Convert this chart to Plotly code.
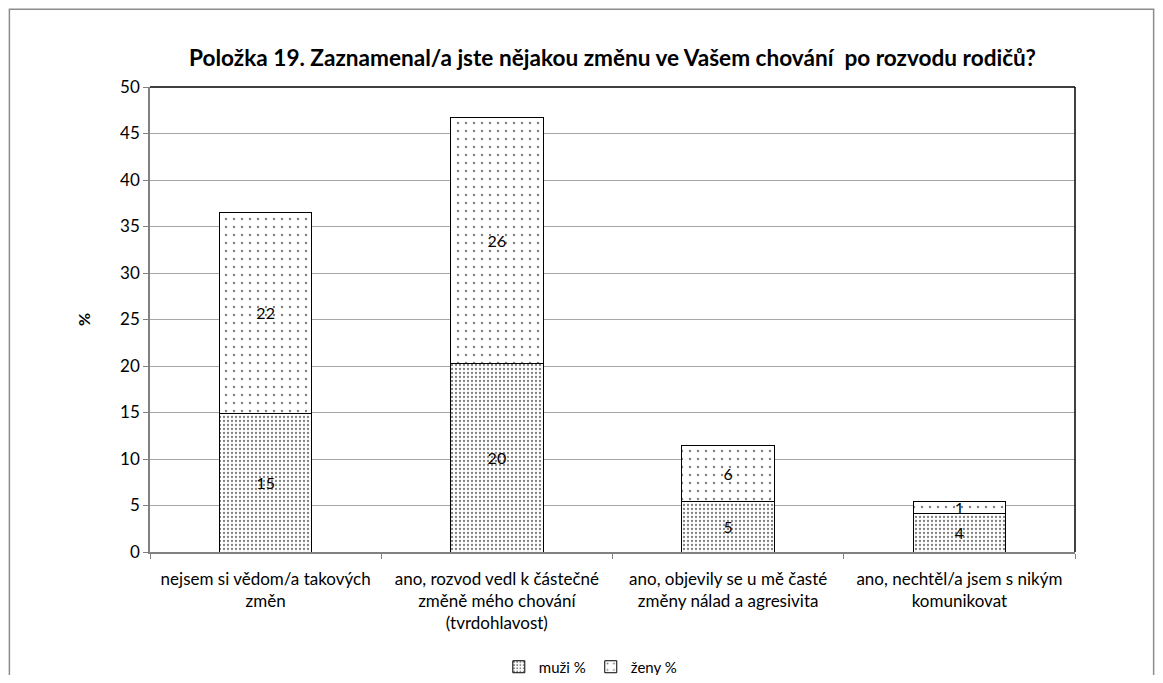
import plotly.graph_objects as go

# data
categories = [
    "nejsem si vědom/a takových<br>změn",
    "ano, rozvod vedl k částečné<br>změně mého chování<br>(tvrdohlavost)",
    "ano, objevily se u mě časté<br>změny nálad a agresivita",
    "ano, nechtěl/a jsem s nikým<br>komunikovat",
]
muzi = [14.9, 20.3, 5.4, 4.1]
zeny = [21.6, 26.4, 6.1, 1.3]
y_ticks = [0, 5, 10, 15, 20, 25, 30, 35, 40, 45, 50]

FONT = "Lato, 'Open Sans', sans-serif"

fig = go.Figure()

fig.add_trace(
    go.Bar(
        x=categories,
        y=muzi,
        name="muži %",
        texttemplate="%{y:.0f}",
        textposition="inside",
        insidetextanchor="middle",
        textangle=0,
        constraintext="none",
        textfont=dict(color="black", size=16, family=FONT),
        marker=dict(
            color="white",
            line=dict(color="black", width=1),
            pattern=dict(shape=".", fgcolor="black", bgcolor="white",
                         size=4, solidity=0.26, fillmode="overlay"),
        ),
    )
)
fig.add_trace(
    go.Bar(
        x=categories,
        y=zeny,
        name="ženy %",
        texttemplate="%{y:.0f}",
        textposition="inside",
        insidetextanchor="middle",
        textangle=0,
        constraintext="none",
        textfont=dict(color="black", size=16, family=FONT),
        marker=dict(
            color="white",
            line=dict(color="black", width=1),
            pattern=dict(shape=".", fgcolor="black", bgcolor="white",
                         size=8, solidity=0.07, fillmode="overlay"),
        ),
    )
)

# outer chart frame and the black top/right edges of the plot box
fig.add_shape(type="rect", xref="paper", yref="paper",
              x0=-0.152, x1=1.085, y0=-0.32, y1=1.167,
              line=dict(color="#8c8c8c", width=1.5), layer="below")
fig.add_shape(type="line", xref="paper", yref="paper",
              x0=0, x1=1, y0=1, y1=1, line=dict(color="black", width=1.5))
fig.add_shape(type="line", xref="paper", yref="paper",
              x0=1, x1=1, y0=0, y1=1, line=dict(color="black", width=1.5))

fig.update_xaxes(
    automargin=False,
    showline=True, linecolor="#808080", linewidth=1.5,
    ticks="outside", tickson="boundaries", ticklen=5, tickcolor="#808080",
    tickfont=dict(size=17, family=FONT, color="black"),
    ticklabelstandoff=11,
    showgrid=False,
)
fig.update_yaxes(
    automargin=False,
    range=[0, 50], tickvals=y_ticks,
    showline=True, linecolor="#808080", linewidth=1.5,
    ticks="outside", ticklen=5, tickcolor="#808080",
    tickfont=dict(size=17, family=FONT, color="black"),
    showgrid=True, gridcolor="#a6a6a6", gridwidth=1,
    title=dict(text="<b>%</b>", font=dict(size=16, family=FONT, color="black"),
               standoff=26),
)

fig.update_layout(
    width=1147,
    height=667,
    barmode="stack",
    bargap=0.6,
    plot_bgcolor="white",
    paper_bgcolor="white",
    font=dict(family=FONT, color="black"),
    title=dict(
        text="<b>Položka 19. Zaznamenal/a jste nějakou změnu ve Vašem chování  po rozvodu rodičů?</b>",
        x=0.5, xref="paper", y=0.925, yref="container", yanchor="middle",
        font=dict(size=22.6, family=FONT, color="black"),
    ),
    margin=dict(l=142, r=80, t=79, b=123),
    showlegend=True,
    legend=dict(
        orientation="h", x=0.476, xanchor="center",
        yref="container", y=0.012, yanchor="middle",
        font=dict(size=15, family=FONT, color="black"),
        traceorder="normal", itemwidth=30,
    ),
)

fig.write_html("out.html")
